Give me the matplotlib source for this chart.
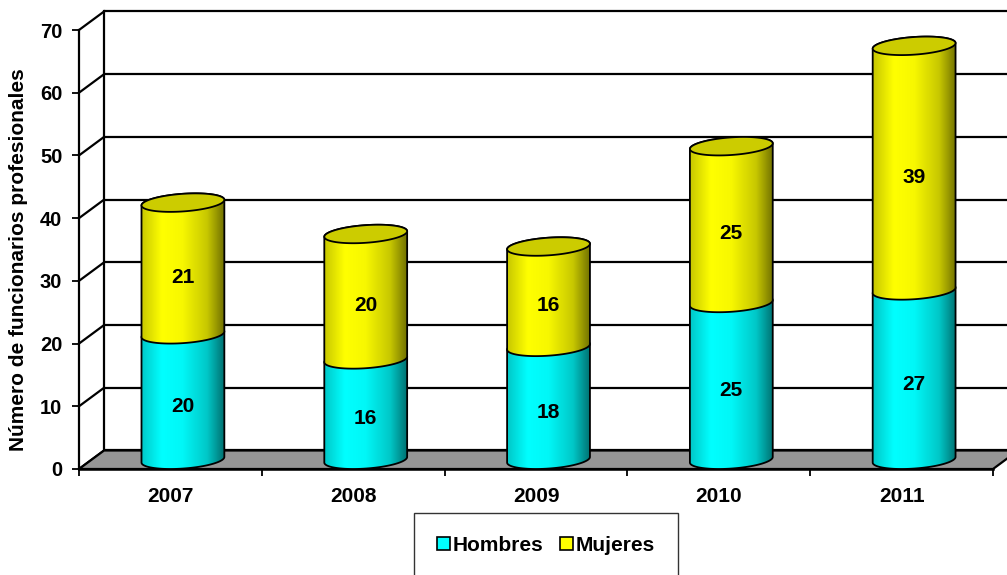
import matplotlib
matplotlib.use("Agg")
import matplotlib.pyplot as plt
import numpy as np
from matplotlib.colors import LinearSegmentedColormap, to_rgb
from matplotlib.patches import Polygon, Patch

plt.rcParams["font.family"] = ["Liberation Sans", "DejaVu Sans"]

# data
years = ["2007", "2008", "2009", "2010", "2011"]
hombres = [20, 16, 18, 25, 27]
mujeres = [21, 20, 16, 25, 39]
series_names = ["Hombres", "Mujeres"]
series_colors = ["#00ffff", "#ffff00"]
top_color = "#cccc00"
y_ticks = [0, 10, 20, 30, 40, 50, 60, 70]

# fake 3d depth, in data units
DX = 0.137
DY = 2.95
RW = 0.216  # cylinder half width

fig = plt.figure(figsize=(10.07, 5.75), dpi=100)
ax = fig.add_axes([79 / 1007, 106 / 575, 914 / 1007, 439 / 575])
ax.set_xlim(-0.5, 4.5)
ax.set_ylim(0, 70)
ax.patch.set_alpha(0)

x0, x1 = -0.5, len(years) - 0.5

# back wall + side wall gridlines
for v in y_ticks:
    ax.plot([x0 + DX, x1 + DX], [v + DY, v + DY], color="black", lw=1.6,
            clip_on=False, zorder=1, solid_capstyle="butt")
    ax.plot([x0, x0 + DX], [v, v + DY], color="black", lw=1.6,
            clip_on=False, zorder=1)
ax.plot([x0 + DX, x0 + DX], [DY, 70 + DY], color="black", lw=1.6,
        clip_on=False, zorder=1)

# floor
floor = Polygon([[x0, 0], [x1, 0], [x1 + DX, DY], [x0 + DX, DY]], closed=True,
                facecolor="#969696", edgecolor="black", lw=1.6, clip_on=False,
                zorder=1.5)
ax.add_patch(floor)


def shade_cmap(color):
    c = np.array(to_rgb(color))
    return LinearSegmentedColormap.from_list(
        "s", [(0, c * 0.78), (0.25, c), (0.5, c * 0.97), (0.8, c * 0.78), (1, c * 0.45)])


delta = np.arctan2(DX / 2, RW)
amp = np.hypot(RW, DX / 2)


def ellipse(cx, cy, th):
    return (cx + RW * np.cos(th) - DX / 2 * np.sin(th),
            cy - DY / 2 * np.sin(th))


def cylinder(cx, base, height, color, z, top=False):
    th_front = np.linspace(np.pi - delta, -delta, 80)
    th_back = np.linspace(2 * np.pi - delta, np.pi - delta, 80)
    bx, by = ellipse(cx, base + DY / 2, th_front)
    tx, ty = ellipse(cx, base + height + DY / 2, th_back)
    pts = np.column_stack([np.r_[bx, tx], np.r_[by, ty]])
    body = Polygon(pts, closed=True, facecolor="none", edgecolor="black",
                   lw=1.3, clip_on=False, zorder=z + 0.2)
    ax.add_patch(body)
    clip = Polygon(pts, closed=True, transform=ax.transData)
    grad = np.linspace(0, 1, 256).reshape(1, -1)
    im = ax.imshow(grad, cmap=shade_cmap(color), aspect="auto",
                   extent=[cx - amp, cx + amp, base, base + height + DY],
                   zorder=z, clip_on=True, interpolation="bilinear")
    im.set_clip_path(clip)
    if top:
        th = np.linspace(0, 2 * np.pi, 160)
        ex, ey = ellipse(cx, base + height + DY / 2, th)
        cap = Polygon(np.column_stack([ex, ey]), closed=True, facecolor=top_color,
                      edgecolor="black", lw=1.3, clip_on=False, zorder=z + 0.3)
        ax.add_patch(cap)


for i, (h, m) in enumerate(zip(hombres, mujeres)):
    cx = i + DX / 2
    cylinder(cx, 0, h, series_colors[0], 3 + i)
    cylinder(cx, h, m, series_colors[1], 3.5 + i, top=True)
    ax.text(cx, h / 2, str(h), ha="center", va="center", fontsize=15,
            fontweight="bold", zorder=20)
    ax.text(cx, h + m / 2, str(m), ha="center", va="center", fontsize=15,
            fontweight="bold", zorder=20)

# restore limits after imshow
ax.set_xlim(-0.5, 4.5)
ax.set_ylim(0, 70)

# axes styling
for s in ["top", "right"]:
    ax.spines[s].set_visible(False)
ax.spines["left"].set_linewidth(1.6)
ax.spines["bottom"].set_linewidth(1.8)
ax.spines["bottom"].set_zorder(2)

ax.set_yticks(y_ticks)
ax.set_yticklabels([str(v) for v in y_ticks], fontsize=14.5, fontweight="bold")
ax.tick_params(axis="y", length=5, width=1.3, pad=7)

ax.set_xticks(np.arange(-0.5, len(years), 1.0))
ax.set_xticklabels([])
ax.set_xticks(np.arange(len(years)), minor=True)
ax.set_xticklabels(years, minor=True, fontsize=15, fontweight="bold")
ax.tick_params(axis="x", which="major", length=5, width=1.3)
ax.tick_params(axis="x", which="minor", length=0, pad=13)

fig.text(19 / 1007, 1 - 260 / 575, "Número de funcionarios profesionales",
         rotation=90, ha="center", va="center", fontsize=15, fontweight="bold")

handles = [Patch(facecolor=c, edgecolor="black", lw=1.2) for c in series_colors]
leg = fig.legend(handles, series_names, loc="upper center",
                 bbox_to_anchor=(546 / 1007, 1 - 513 / 575), ncol=2,
                 prop=dict(weight="bold", size=15), frameon=True, fancybox=False,
                 edgecolor="black", borderpad=1.1, handlelength=0.6,
                 handleheight=0.6, handletextpad=0.15, columnspacing=0.8,
                 borderaxespad=0)
leg.get_frame().set_linewidth(1.0)

fig.savefig("out.png", dpi=100, facecolor="white")
